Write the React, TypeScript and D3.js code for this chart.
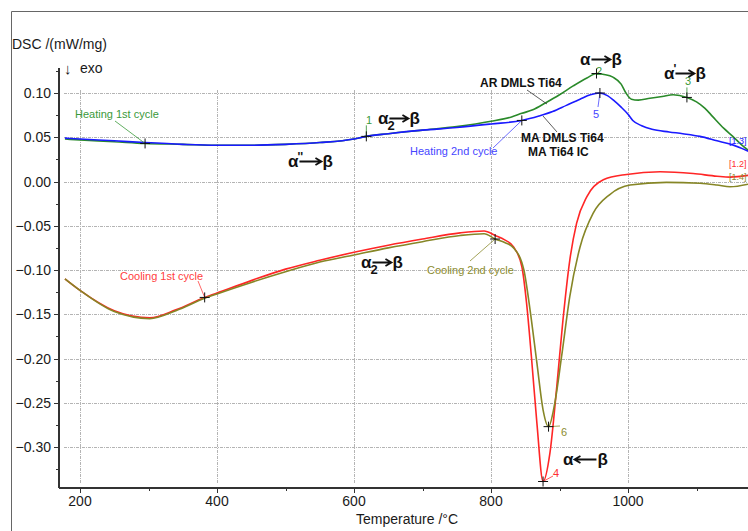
import React, { useEffect, useRef } from "react";
import * as d3 from "d3";

// Heating 1st cycle (AR DMLS Ti64)
const heat1T = [178, 200, 250, 295, 350, 400, 450, 500, 550, 600, 618, 650, 700, 750, 800, 830, 845, 861, 880, 900, 920, 940, 954, 965, 978, 990, 997, 1005, 1015, 1032, 1050, 1066, 1086, 1100, 1112, 1124, 1140, 1153, 1165, 1176];
const heat1V = [0.048, 0.047, 0.045, 0.043, 0.042, 0.041, 0.041, 0.042, 0.044, 0.048, 0.051, 0.054, 0.058, 0.062, 0.068, 0.073, 0.077, 0.081, 0.089, 0.098, 0.108, 0.117, 0.122, 0.121, 0.118, 0.110, 0.100, 0.093, 0.092, 0.094, 0.096, 0.098, 0.095, 0.090, 0.083, 0.073, 0.060, 0.051, 0.042, 0.035];

// Heating 2nd cycle (MA DMLS Ti64)
const heat2T = [178, 200, 250, 295, 350, 400, 450, 500, 550, 600, 618, 650, 700, 750, 800, 845, 870, 890, 910, 930, 945, 959, 970, 980, 990, 1000, 1007, 1020, 1035, 1060, 1080, 1105, 1130, 1150, 1176];
const heat2V = [0.049, 0.048, 0.046, 0.044, 0.042, 0.041, 0.041, 0.042, 0.044, 0.048, 0.051, 0.054, 0.058, 0.061, 0.065, 0.069, 0.074, 0.079, 0.086, 0.093, 0.098, 0.100, 0.097, 0.091, 0.084, 0.076, 0.069, 0.063, 0.059, 0.056, 0.054, 0.051, 0.046, 0.042, 0.034];

// Cooling 1st cycle
const cool1T = [178, 200, 250, 302, 340, 382, 400, 450, 500, 550, 600, 650, 700, 755, 790, 806, 820, 833, 845, 852, 859, 867, 876, 886, 896, 905, 915, 925, 940, 964, 998, 1047, 1095, 1130, 1149, 1176];
const cool1V = [-0.110, -0.123, -0.146, -0.154, -0.145, -0.131, -0.126, -0.112, -0.099, -0.089, -0.080, -0.072, -0.065, -0.058, -0.056, -0.061, -0.066, -0.074, -0.096, -0.138, -0.198, -0.273, -0.339, -0.307, -0.232, -0.157, -0.089, -0.047, -0.017, 0.002, 0.008, 0.011, 0.009, 0.006, 0.005, 0.007];

// Cooling 2nd cycle
const cool2T = [178, 200, 250, 302, 340, 382, 400, 450, 500, 550, 600, 650, 700, 755, 790, 806, 820, 833, 848, 857, 867, 876, 884, 893, 903, 915, 930, 949, 973, 1003, 1056, 1105, 1130, 1149, 1176];
const cool2V = [-0.110, -0.123, -0.147, -0.155, -0.146, -0.132, -0.127, -0.114, -0.102, -0.091, -0.083, -0.075, -0.068, -0.061, -0.059, -0.065, -0.069, -0.075, -0.100, -0.145, -0.205, -0.258, -0.277, -0.251, -0.198, -0.130, -0.074, -0.036, -0.015, -0.004, -0.001, -0.002, -0.004, -0.006, -0.003];

const yTicks = [0.1, 0.05, 0, -0.05, -0.1, -0.15, -0.2, -0.25, -0.3];
const xTicks = [200, 400, 600, 800, 1000];

const FONT = "'Liberation Sans', Arial, sans-serif";

export default function App() {
  const ref = useRef<SVGSVGElement>(null);

  useEffect(() => {
    const svg = d3.select(ref.current);
    svg.selectAll("*").remove();

    const x = d3.scaleLinear().domain([200, 1000]).range([80, 628]);
    const y = d3.scaleLinear().domain([-0.3, 0.1]).range([447, 93]);
    const x0 = 59, yBot = 488, yTop = 68, xEnd = 748;

    // outer frame
    svg.append("path").attr("d", `M11.5,531 L11.5,11.5 L748,11.5`).attr("fill", "none").attr("stroke", "#666").attr("stroke-width", 1);

    // grid
    const grid = svg.append("g").attr("stroke", "#b4b4b4").attr("stroke-dasharray", "3,1,1,1").attr("stroke-width", 1);
    xTicks.forEach(t => {
      grid.append("line").attr("x1", Math.round(x(t)) + 0.5).attr("x2", Math.round(x(t)) + 0.5).attr("y1", 90).attr("y2", 483);
    });
    yTicks.forEach(v => {
      grid.append("line").attr("x1", 64).attr("x2", xEnd).attr("y1", Math.round(y(v)) + 0.5).attr("y2", Math.round(y(v)) + 0.5);
    });

    // axes
    const ax = svg.append("g").attr("stroke", "#333").attr("stroke-width", 1);
    ax.append("line").attr("x1", x0).attr("x2", x0).attr("y1", yTop).attr("y2", yBot).attr("stroke-width", 2);
    ax.append("line").attr("x1", x0).attr("x2", xEnd).attr("y1", yBot).attr("y2", yBot).attr("stroke-width", 2);
    d3.range(-0.325, 0.13, 0.025).forEach(v => {
      const major = yTicks.some(t => Math.abs(t - v) < 1e-6);
      const yy = Math.round(y(v)) + 0.5;
      ax.append("line").attr("x1", x0 - (major ? 5 : 3)).attr("x2", x0).attr("y1", yy).attr("y2", yy);
    });
    d3.range(200, 1200, 100).forEach(t => {
      const major = t % 200 === 0;
      const xx = Math.round(x(t)) + 0.5;
      ax.append("line").attr("x1", xx).attr("x2", xx).attr("y1", yBot).attr("y2", yBot + (major ? 5 : 3));
    });

    const lbl = svg.append("g").attr("font-family", FONT).attr("font-size", 14).attr("fill", "#1a1a1a");
    yTicks.forEach(v => {
      lbl.append("text").attr("x", 51).attr("y", y(v) + 5).attr("text-anchor", "end").text(d3.format(".2f")(v));
    });
    xTicks.forEach(t => {
      lbl.append("text").attr("x", x(t)).attr("y", 506).attr("text-anchor", "middle").text(t);
    });
    lbl.append("text").attr("x", 12).attr("y", 49).text("DSC /(mW/mg)");
    lbl.append("text").attr("x", 64).attr("y", 74).attr("font-size", 15).text("\u2193");
    lbl.append("text").attr("x", 80).attr("y", 73).text("exo");
    lbl.append("text").attr("x", 407).attr("y", 524).attr("text-anchor", "middle").text("Temperature /\u00b0C");

    // curves
    const line = d3.line<[number, number]>().x(d => x(d[0])).y(d => y(d[1])).curve(d3.curveMonotoneX);
    const series = [
      { t: cool1T, v: cool1V, c: "#ff2626" },
      { t: cool2T, v: cool2V, c: "#868626" },
      { t: heat1T, v: heat1V, c: "#2a8a2a" },
      { t: heat2T, v: heat2V, c: "#1a1aff" },
    ];
    series.forEach(s => {
      const pts = s.t.map((t, i) => [t, s.v[i]] as [number, number]);
      svg.append("path").attr("d", line(pts)).attr("fill", "none").attr("stroke", s.c).attr("stroke-width", 1.6);
    });

    // series labels with leader lines
    const small = svg.append("g").attr("font-family", FONT).attr("font-size", 11);
    const leader = (x1: number, y1: number, x2: number, y2: number, c: string) =>
      svg.append("line").attr("x1", x1).attr("y1", y1).attr("x2", x2).attr("y2", y2).attr("stroke", c).attr("stroke-width", 0.8);

    small.append("text").attr("x", 75).attr("y", 118).attr("fill", "#3a9a3a").text("Heating 1st cycle");
    leader(115, 121, x(295), y(0.043), "#3a9a3a");
    small.append("text").attr("x", 410).attr("y", 155).attr("fill", "#4646ff").text("Heating 2nd cycle");
    leader(493, 148, x(845), y(0.069), "#4646ff");
    small.append("text").attr("x", 120).attr("y", 280).attr("fill", "#ff4040").text("Cooling 1st cycle");
    leader(198, 281, x(382), y(-0.131), "#ff4040");
    small.append("text").attr("x", 427).attr("y", 274).attr("fill", "#8c8c30").text("Cooling 2nd cycle");
    leader(470, 261, x(806), y(-0.065), "#8c8c30");

    // peak numbers
    small.append("text").attr("x", 366).attr("y", 124).attr("fill", "#3a9a3a").text("1");
    leader(x(618), y(0.051), x(618), y(0.051) - 11, "#2a8a2a");
    small.append("text").attr("x", 596).attr("y", 75).attr("fill", "#3a9a3a").text("2");
    small.append("text").attr("x", 685).attr("y", 85).attr("fill", "#3a9a3a").text("3");
    leader(x(1086), y(0.095), x(1086), y(0.095) - 10, "#2a8a2a");
    small.append("text").attr("x", 593).attr("y", 118).attr("fill", "#4646ff").text("5");
    leader(x(959), y(0.1), 598, 107, "#4646ff");
    small.append("text").attr("x", 561).attr("y", 436).attr("fill", "#8c8c30").text("6");
    leader(x(884), y(-0.277), 560, 426, "#8c8c30");
    small.append("text").attr("x", 553).attr("y", 477).attr("fill", "#ff3030").text("4");
    leader(x(876), y(-0.339), 553, 476, "#ff3030");

    // edge labels
    const edge = svg.append("g").attr("font-family", FONT).attr("font-size", 9);
    edge.append("text").attr("x", 729).attr("y", 144).attr("fill", "#2020ff").text("[1.3]");
    edge.append("text").attr("x", 729).attr("y", 167).attr("fill", "#ff3030").text("[1.2]");
    edge.append("text").attr("x", 729).attr("y", 180).attr("fill", "#8c8c30").text("[1.4]");

    // markers
    const marks: [number, number][] = [[295, 0.043], [618, 0.051], [845, 0.069], [954, 0.122], [959, 0.1], [1086, 0.095], [382, -0.131], [806, -0.065], [884, -0.277], [876, -0.339]];
    marks.forEach(([t, v]) => {
      const px = x(t), py = y(v);
      svg.append("path").attr("d", `M${px - 5},${py} L${px + 5},${py} M${px},${py - 5} L${px},${py + 5}`).attr("stroke", "#111").attr("stroke-width", 1);
    });

    // sample labels
    const bold = svg.append("g").attr("font-family", FONT).attr("font-size", 12).attr("font-weight", "bold").attr("fill", "#111");
    bold.append("text").attr("x", 480).attr("y", 87).text("AR DMLS Ti64");
    leader(527, 90, 547, 104, "#333");
    bold.append("text").attr("x", 521).attr("y", 142).text("MA DMLS Ti64");
    bold.append("text").attr("x", 528).attr("y", 156).text("MA Ti64 IC");
    leader(557, 132, 543, 116, "#333");

    // transformation annotations
    const trans = (tx: number, ty: number, mod: string, sub: boolean, dir: number, len: number) => {
      const g = svg.append("g").attr("font-family", FONT).attr("font-weight", "bold").attr("fill", "#111");
      const a = g.append("text").attr("x", tx).attr("y", ty).attr("font-size", 17).text("\u03b1");
      let cx = tx + (a.node() as SVGTextElement).getComputedTextLength();
      if (mod) {
        g.append("text").attr("x", cx - 1).attr("y", ty - 6).attr("font-size", 12).text(mod);
      }
      if (sub) {
        g.append("text").attr("x", cx - 1).attr("y", ty + 6).attr("font-size", 13).text("2");
      }
      const ay = ty - 5.5;
      const x1 = cx + 1, x2 = cx + 1 + len;
      const tip = dir > 0 ? x2 : x1;
      g.append("path")
        .attr("d", `M${x1},${ay} L${x2},${ay} M${tip - 6 * dir},${ay - 3.5} L${tip},${ay} L${tip - 6 * dir},${ay + 3.5}`)
        .attr("stroke", "#111").attr("stroke-width", 1.8).attr("fill", "none");
      g.append("text").attr("x", x2 + 1).attr("y", ty).attr("font-size", 17).text("\u03b2");
    };
    trans(378, 124, "", true, 1, 19);
    trans(580, 65, "", false, 1, 19);
    trans(664, 79, "'", false, 1, 19);
    trans(288, 167, "''", false, 1, 22);
    trans(361, 268, "", true, 1, 19);
    trans(563, 465, "", false, -1, 22);
  }, []);

  return (
    <svg ref={ref} width={748} height={531} style={{ position: "absolute", left: 0, top: 0, background: "#fff" }} />
  );
}
